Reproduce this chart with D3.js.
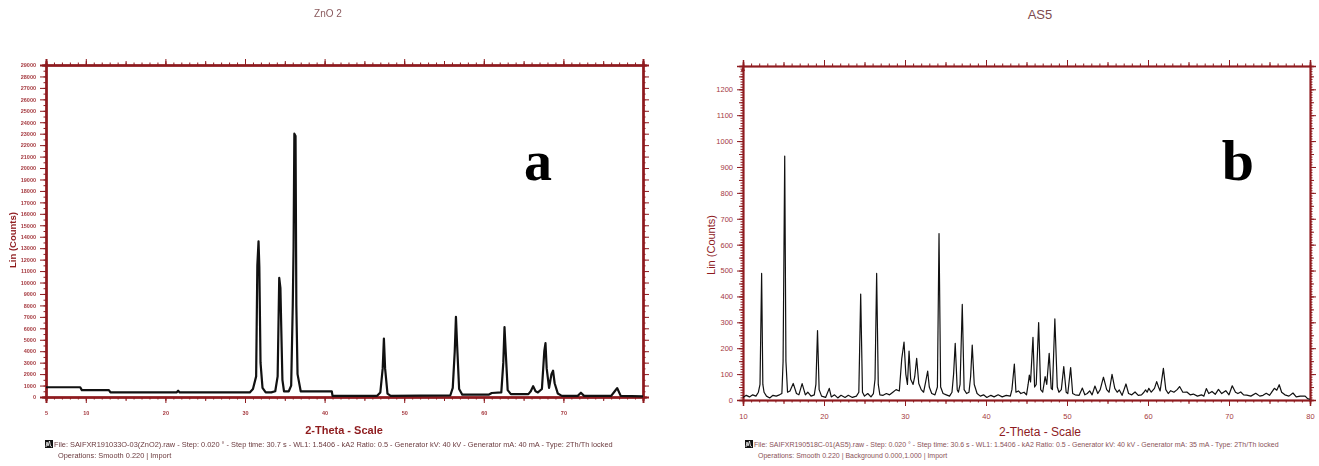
<!DOCTYPE html>
<html>
<head>
<meta charset="utf-8">
<script src="https://cdn.jsdelivr.net/npm/d3@7/dist/d3.min.js"></script>
<style>
  body { margin: 0; background: #fff; }
  svg { display: block; }
</style>
</head>
<body>
<svg id="chart" width="1319" height="466"></svg>
<script>
// ZnO 2 pattern, [2-theta, counts]
const znoPattern = [
  [5.0, 850], [9.3, 850], [9.5, 600], [12.9, 600], [13.1, 400], [21.4, 400], [21.6, 550], [21.8, 400],
  [30.6, 400], [31.0, 700], [31.4, 1800], [31.55, 11500], [31.7, 13600], [31.8, 11400], [31.95, 3000],
  [32.2, 800], [32.6, 400], [33.3, 400], [33.8, 500], [34.1, 1800], [34.3, 10400], [34.45, 9500],
  [34.55, 6200], [34.7, 1500], [34.9, 500], [35.5, 500], [35.8, 1000], [36.0, 8000], [36.1, 13000],
  [36.2, 23000], [36.35, 22800], [36.45, 8000], [36.6, 2000], [37.0, 500], [40.9, 500], [41.0, 100],
  [46.6, 100], [47.0, 400], [47.3, 2500], [47.45, 5100], [47.6, 2500], [47.9, 300], [48.3, 100],
  [55.8, 150], [56.1, 800], [56.35, 4000], [56.5, 7000], [56.65, 4500], [56.9, 700], [57.3, 200],
  [60.6, 200], [61.0, 350], [62.2, 400], [62.45, 3000], [62.6, 6100], [62.75, 4000], [63.0, 600],
  [63.4, 250], [65.6, 250], [65.9, 500], [66.2, 950], [66.5, 500], [66.8, 400], [67.3, 700],
  [67.6, 4000], [67.75, 4700], [67.9, 2500], [68.2, 800], [68.5, 2000], [68.7, 2300], [68.9, 1200],
  [69.3, 300], [69.8, 100], [71.8, 100], [72.2, 370], [72.6, 100], [76.0, 100], [76.5, 550],
  [76.75, 780], [77.2, 100], [80.0, 50]
];

// AS5 pattern, [2-theta, counts]
const as5Pattern = [
  [10.0, 10], [10.4, 18], [10.8, 12], [11.2, 20], [11.6, 15], [11.9, 30], [12.1, 60], [12.3, 489],
  [12.45, 60], [12.6, 30], [12.9, 15], [13.3, 8], [13.7, 18], [14.1, 15], [14.5, 20], [14.8, 25],
  [14.95, 150], [15.15, 942], [15.3, 150], [15.5, 30], [15.8, 35], [16.2, 64], [16.6, 25], [16.9, 20],
  [17.3, 63], [17.7, 20], [18.0, 30], [18.4, 15], [18.8, 20], [19.0, 60], [19.2, 268], [19.4, 40],
  [19.7, 15], [20.2, 10], [20.65, 45], [20.9, 12], [21.3, 20], [21.7, 8], [22.1, 18], [22.6, 10],
  [23.0, 18], [23.5, 10], [24.0, 15], [24.3, 30], [24.53, 409], [24.75, 30], [25.0, 15], [25.4, 25],
  [25.8, 12], [26.1, 25], [26.3, 80], [26.5, 489], [26.7, 60], [26.9, 20], [27.3, 18], [27.7, 25],
  [28.1, 20], [28.5, 30], [28.9, 40], [29.3, 35], [29.6, 160], [29.88, 224], [30.1, 100], [30.3, 60],
  [30.5, 189], [30.7, 80], [31.0, 60], [31.2, 90], [31.44, 161], [31.7, 64], [32.0, 40], [32.3, 30],
  [32.55, 70], [32.8, 112], [33.0, 50], [33.3, 25], [33.7, 20], [34.0, 50], [34.2, 643], [34.4, 50],
  [34.7, 25], [35.1, 20], [35.5, 15], [35.8, 30], [36.0, 100], [36.2, 219], [36.45, 40], [36.6, 30],
  [36.8, 60], [37.07, 369], [37.3, 40], [37.6, 25], [37.9, 30], [38.1, 90], [38.3, 212], [38.55, 60],
  [38.9, 25], [39.3, 15], [39.7, 20], [40.1, 10], [40.6, 18], [41.0, 12], [41.5, 20], [42.0, 12],
  [42.5, 18], [43.0, 15], [43.2, 40], [43.5, 139], [43.7, 30], [44.0, 35], [44.3, 25], [44.7, 30],
  [45.0, 20], [45.2, 60], [45.35, 96], [45.5, 70], [45.8, 242], [46.0, 50], [46.2, 60], [46.5, 299],
  [46.75, 40], [47.0, 30], [47.3, 90], [47.5, 60], [47.8, 180], [48.05, 45], [48.2, 40], [48.5, 313],
  [48.8, 50], [49.0, 30], [49.3, 40], [49.6, 129], [49.9, 30], [50.1, 25], [50.45, 125], [50.7, 25],
  [51.0, 20], [51.5, 18], [51.9, 46], [52.2, 20], [52.5, 25], [52.8, 35], [53.1, 20], [53.45, 54],
  [53.8, 25], [54.1, 40], [54.5, 88], [54.9, 40], [55.2, 30], [55.56, 99], [55.9, 45], [56.2, 30],
  [56.46, 39], [56.8, 18], [57.28, 62], [57.6, 25], [58.0, 20], [58.4, 31], [58.8, 18], [59.2, 20],
  [59.5, 30], [59.7, 39], [59.9, 30], [60.1, 45], [60.4, 30], [60.8, 45], [61.07, 71], [61.3, 50],
  [61.5, 35], [61.9, 122], [62.2, 40], [62.5, 25], [62.8, 36], [63.2, 30], [63.6, 40], [63.9, 52],
  [64.3, 30], [64.8, 31], [65.2, 20], [65.6, 23], [66.1, 15], [66.6, 20], [66.9, 15], [67.2, 44],
  [67.5, 25], [67.9, 33], [68.3, 22], [68.7, 41], [69.1, 25], [69.6, 36], [70.0, 20], [70.4, 55],
  [70.8, 30], [71.1, 25], [71.45, 31], [71.8, 20], [72.2, 19], [72.7, 15], [73.3, 26], [73.8, 15],
  [74.2, 18], [74.6, 26], [75.0, 18], [75.6, 45], [75.9, 38], [76.2, 59], [76.5, 30], [76.9, 20],
  [77.4, 15], [77.9, 27], [78.3, 12], [78.8, 15], [79.4, 15], [79.7, 5], [80.0, 3]
];

// tick labels
const znoXTicks = [5, 10, 20, 30, 40, 50, 60, 70];
const znoYTicks = d3.range(0, 29001, 1000);
const as5XTicks = [10, 20, 30, 40, 50, 60, 70, 80];
const as5YTicks = [0, 100, 200, 300, 400, 500, 600, 700, 800, 900, 1000, 1100, 1200];

const footerA = [
  'File: SAIFXR191033O-03(ZnO2).raw - Step: 0.020 ° - Step time: 30.7 s - WL1: 1.5406 - kA2 Ratio: 0.5 - Generator kV: 40 kV - Generator mA: 40 mA - Type: 2Th/Th locked',
  'Operations: Smooth 0.220 | Import'
];
const footerB = [
  'File: SAIFXR190518C-01(AS5).raw - Step: 0.020 ° - Step time: 30.6 s - WL1: 1.5406 - kA2 Ratio: 0.5 - Generator kV: 40 kV - Generator mA: 35 mA - Type: 2Th/Th locked',
  'Operations: Smooth 0.220 | Background 0.000,1.000 | Import'
];

const AXIS = '#8e1b1f';
const LABEL = '#a53a40';
const svg = d3.select('#chart');

// soft blur for the low-res left panel text
svg.append('defs').append('filter').attr('id', 'soft')
  .append('feGaussianBlur').attr('stdDeviation', 0.45);

function styleAxis(g, width) {
  g.select('.domain').attr('stroke', AXIS).attr('stroke-width', width);
  g.selectAll('.tick line').attr('stroke', AXIS).attr('stroke-width', 1);
  g.selectAll('.tick text').attr('fill', LABEL);
}

// draws frame with minor / medium / major ticks on all four sides
function drawFrame(g, x, y, o) {
  const [x0, x1] = x.range();
  const [yb, yt] = y.range();
  const levels = [
    { xv: o.xMinor, yv: o.yMinor, s: 2.5 },
    { xv: o.xMid, yv: o.yMid, s: 4 },
    { xv: o.xMajor, yv: o.yMajor, s: 6 }
  ];
  levels.forEach(l => {
    g.append('g').attr('transform', `translate(0,${yb})`)
      .call(d3.axisBottom(x).tickValues(l.xv).tickSize(l.s).tickFormat(''))
      .call(a => styleAxis(a, o.lw));
    g.append('g').attr('transform', `translate(0,${yt})`)
      .call(d3.axisTop(x).tickValues(l.xv).tickSize(l.s).tickFormat(''))
      .call(a => styleAxis(a, o.lw));
    g.append('g').attr('transform', `translate(${x0},0)`)
      .call(d3.axisLeft(y).tickValues(l.yv).tickSize(l.s).tickFormat(''))
      .call(a => styleAxis(a, o.lw));
    g.append('g').attr('transform', `translate(${x1},0)`)
      .call(d3.axisRight(y).tickValues(l.yv).tickSize(l.s).tickFormat(''))
      .call(a => styleAxis(a, o.lw));
  });
  // labels
  g.append('g').attr('transform', `translate(0,${yb})`)
    .call(d3.axisBottom(x).tickValues(o.xLabels).tickSize(o.xLabelGap).tickFormat(d3.format('d')))
    .call(a => { a.select('.domain').remove(); a.selectAll('line').remove(); })
    .selectAll('text').attr('fill', LABEL).attr('font-size', o.fs).attr('font-family', 'Liberation Sans, Arial');
  g.append('g').attr('transform', `translate(${x0},0)`)
    .call(d3.axisLeft(y).tickValues(o.yLabels).tickSize(o.yLabelGap).tickFormat(d3.format('d')))
    .call(a => { a.select('.domain').remove(); a.selectAll('line').remove(); })
    .selectAll('text').attr('fill', LABEL).attr('font-size', o.fs).attr('font-family', 'Liberation Sans, Arial');
}

function drawFooter(g, lines, x, y, fs, color) {
  g.append('rect').attr('x', x - 9).attr('y', y - 7).attr('width', 8).attr('height', 8)
    .attr('fill', '#111');
  g.append('path').attr('d', `M${x - 8},${y} L${x - 7},${y - 5} L${x - 6},${y - 1} L${x - 4.5},${y - 6} L${x - 3.5},${y - 1} L${x - 2},${y}`)
    .attr('fill', 'none').attr('stroke', '#fff').attr('stroke-width', 0.8);
  lines.forEach((t, i) => {
    g.append('text').attr('x', x + (i ? 4 : 0)).attr('y', y + i * 10.5)
      .attr('font-size', fs).attr('font-family', 'Liberation Sans, Arial')
      .attr('fill', color).text(t);
  });
}

// ---------- panel a ----------
const xA = d3.scaleLinear([5, 80], [46, 643]);
const yA = d3.scaleLinear([0, 29000], [397, 65]);
const gA = svg.append('g');

drawFrame(gA, xA, yA, {
  lw: 2,
  xMinor: d3.range(5, 80.1, 1), xMid: d3.range(5, 80.1, 5), xMajor: d3.range(10, 80.1, 10),
  yMinor: d3.range(0, 29001, 500), yMid: [], yMajor: znoYTicks,
  xLabels: znoXTicks, yLabels: znoYTicks, fs: 5.5, xLabelGap: 11, yLabelGap: 7
});
gA.selectAll('text').attr('font-weight', 'bold');

gA.append('path').datum(znoPattern)
  .attr('fill', 'none').attr('stroke', '#111').attr('stroke-width', 2.2).attr('stroke-linejoin', 'round')
  .attr('d', d3.line().x(d => xA(d[0])).y(d => yA(d[1])));

gA.append('text').attr('x', 328).attr('y', 17).attr('text-anchor', 'middle')
  .attr('font-size', 10).attr('font-family', 'Liberation Sans, Arial').attr('fill', '#8a5a5e')
  .text('ZnO 2');
gA.append('text').attr('x', 344).attr('y', 434).attr('text-anchor', 'middle')
  .attr('font-size', 11).attr('font-weight', 'bold').attr('font-family', 'Liberation Sans, Arial')
  .attr('fill', '#8e1b1f').text('2-Theta - Scale');
gA.append('text').attr('transform', 'translate(16,240) rotate(-90)').attr('text-anchor', 'middle')
  .attr('font-size', 9.5).attr('font-weight', 'bold').attr('font-family', 'Liberation Sans, Arial')
  .attr('fill', '#8e1b1f').text('Lin (Counts)');
drawFooter(gA, footerA, 54, 447, 7.4, '#6a3a3e');
gA.selectAll('text').attr('filter', 'url(#soft)');
gA.append('text').attr('x', 538).attr('y', 180).attr('text-anchor', 'middle')
  .attr('font-size', 56).attr('font-weight', 'bold').attr('font-family', 'Liberation Serif, Times New Roman')
  .attr('fill', '#000').text('a');

// ---------- panel b ----------
const xB = d3.scaleLinear([10, 80], [743, 1310]);
const yB = d3.scaleLinear([0, 1290], [400, 66]);
const gB = svg.append('g');

drawFrame(gB, xB, yB, {
  lw: 1.5,
  xMinor: d3.range(10, 80.1, 1), xMid: d3.range(10, 80.1, 5), xMajor: as5XTicks,
  yMinor: d3.range(0, 1290, 10), yMid: d3.range(0, 1290, 50), yMajor: as5YTicks,
  xLabels: as5XTicks, yLabels: as5YTicks, fs: 7.5, xLabelGap: 11, yLabelGap: 7
});

gB.append('path').datum(as5Pattern)
  .attr('fill', 'none').attr('stroke', '#111').attr('stroke-width', 1.2).attr('stroke-linejoin', 'round')
  .attr('d', d3.line().x(d => xB(d[0])).y(d => yB(d[1])));

gB.append('path').attr('d', `M${xB(10) - 2},${yB(1290) + 5} L${xB(10)},${yB(1290)} L${xB(10) + 2},${yB(1290) + 5} Z`)
  .attr('fill', AXIS);

gB.append('text').attr('x', 1040).attr('y', 19).attr('text-anchor', 'middle')
  .attr('font-size', 13).attr('font-family', 'Liberation Sans, Arial').attr('fill', '#7d4a4e').text('AS5');
gB.append('text').attr('x', 1040).attr('y', 436).attr('text-anchor', 'middle')
  .attr('font-size', 12).attr('font-family', 'Liberation Sans, Arial').attr('fill', '#8e1b1f').text('2-Theta - Scale');
gB.append('text').attr('transform', 'translate(715,245) rotate(-90)').attr('text-anchor', 'middle')
  .attr('font-size', 11).attr('font-family', 'Liberation Sans, Arial').attr('fill', '#8e1b1f').text('Lin (Counts)');
drawFooter(gB, footerB, 754, 447, 7.0, '#8a5258');
gB.append('text').attr('x', 1238).attr('y', 180).attr('text-anchor', 'middle')
  .attr('font-size', 58).attr('font-weight', 'bold').attr('font-family', 'Liberation Serif, Times New Roman')
  .attr('fill', '#000').text('b');
</script>
</body>
</html>
